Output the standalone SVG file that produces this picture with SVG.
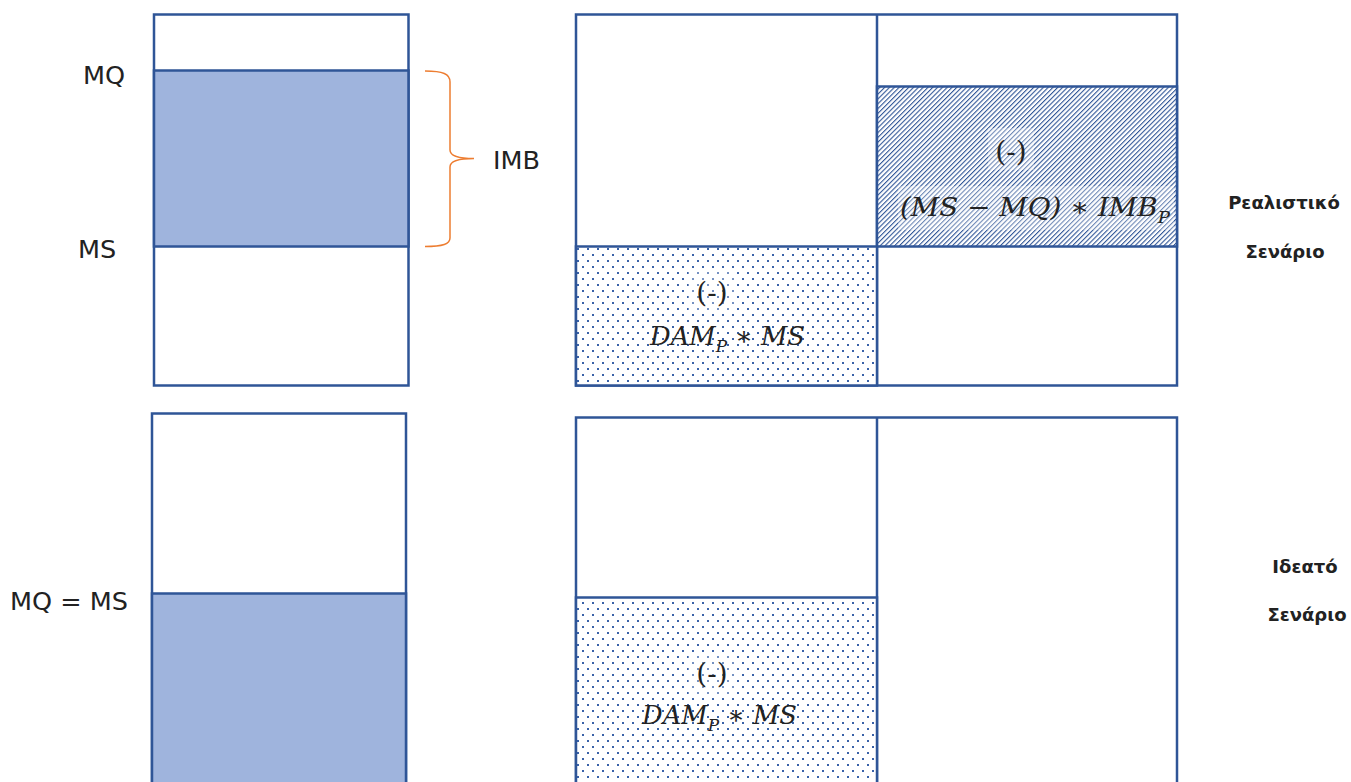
<svg xmlns="http://www.w3.org/2000/svg" width="1351" height="782" viewBox="0 0 1351 782">
<style>
.box{fill:#ffffff;stroke:#2F5597;stroke-width:2.5}
.fill{fill:#9FB4DD;stroke:#2F5597;stroke-width:2.5}
.ln{stroke:#2F5597;stroke-width:2.5;fill:none}
.hatch{fill:url(#hatch);stroke:#2F5597;stroke-width:2.5}
.dots{fill:url(#dots);stroke:#2F5597;stroke-width:2.5}
.lbl{font-family:"DejaVu Sans","Verdana",sans-serif;font-size:25.5px;fill:#222222}
.math{font-family:"DejaVu Serif","Liberation Serif",serif;font-style:italic;font-size:26px;fill:#222222}
.par{font-family:"DejaVu Serif","Liberation Serif",serif;font-size:28px;fill:#222222}
.sc{font-family:"DejaVu Sans","Verdana",sans-serif;font-weight:bold;font-size:18px;fill:#222222}
.brace{fill:none;stroke:#ED7D31;stroke-width:1.5}
.veil{fill:#ffffff;opacity:0.3}
</style>
<defs>
<pattern id="hatch" patternUnits="userSpaceOnUse" width="3.4" height="3.4" patternTransform="rotate(45)">
<rect width="3.4" height="3.4" fill="#ffffff"/>
<rect x="0" y="0" width="1.1" height="3.4" fill="#2F5597"/>
</pattern>
<pattern id="dots" patternUnits="userSpaceOnUse" width="10" height="12">
<rect width="10" height="12" fill="#ffffff"/>
<rect x="2" y="2" width="2" height="2" fill="#3A62A8"/>
<rect x="7" y="8" width="2" height="2" fill="#3A62A8"/>
</pattern>
</defs>

<g id="realistic-left">
<rect class="box" x="154" y="14.5" width="254.5" height="371"/>
<rect class="fill" x="154" y="70.5" width="254.5" height="176"/>
</g>

<g id="realistic-right">
<rect class="box" x="576" y="14.5" width="601" height="371"/>
<line class="ln" x1="877" y1="14.5" x2="877" y2="385.5"/>
<rect class="hatch" x="877" y="86.5" width="300" height="160"/>
<rect class="dots" x="576" y="246.5" width="301" height="139"/>
<rect class="veil" x="988" y="128" width="46" height="42"/>
<rect class="veil" x="898" y="186" width="276" height="44"/>
<text class="par" x="1011" y="161" text-anchor="middle">(-)</text>
<text class="math" x="900" y="216" textLength="270" lengthAdjust="spacingAndGlyphs">(MS − MQ) ∗ IMB<tspan font-size="17" dy="7">P</tspan></text>
<rect class="veil" x="688" y="272" width="48" height="42"/>
<text class="par" x="712" y="302" text-anchor="middle">(-)</text>
<text class="math" x="650" y="345" textLength="155" lengthAdjust="spacingAndGlyphs">DAM<tspan font-size="17" dy="7">P</tspan><tspan dy="-7"> ∗ MS</tspan></text>
</g>

<g id="ideal-left">
<rect class="box" x="152" y="413.5" width="254" height="380"/>
<rect class="fill" x="152" y="593.5" width="254" height="200"/>
</g>

<g id="ideal-right">
<rect class="box" x="576" y="417.5" width="601" height="380"/>
<line class="ln" x1="877" y1="417.5" x2="877" y2="790"/>
<rect class="dots" x="576" y="597.5" width="301" height="200"/>
<rect class="veil" x="688" y="652" width="48" height="42"/>
<text class="par" x="712" y="683" text-anchor="middle">(-)</text>
<text class="math" x="642" y="724" textLength="155" lengthAdjust="spacingAndGlyphs">DAM<tspan font-size="17" dy="7">P</tspan><tspan dy="-7"> ∗ MS</tspan></text>
</g>

<g id="labels">
<text class="lbl" x="83" y="84">MQ</text>
<text class="lbl" x="78" y="258">MS</text>
<text class="lbl" x="493" y="169">IMB</text>
<text class="lbl" x="10" y="610">MQ = MS</text>
<text class="sc" x="1284" y="209" text-anchor="middle">Ρεαλιστικό</text>
<text class="sc" x="1285" y="258" text-anchor="middle">Σενάριο</text>
<text class="sc" x="1305" y="573" text-anchor="middle">Ιδεατό</text>
<text class="sc" x="1307" y="621" text-anchor="middle">Σενάριο</text>
</g>

<g id="connectors">
<path class="brace" d="M425,71 C443,71 450,74 450,82 L450,150 C450,156 458,158.5 474,158.5 C458,158.5 450,161 450,167 L450,238 C450,244 443,246.5 425,246.5"/>
</g>
</svg>
